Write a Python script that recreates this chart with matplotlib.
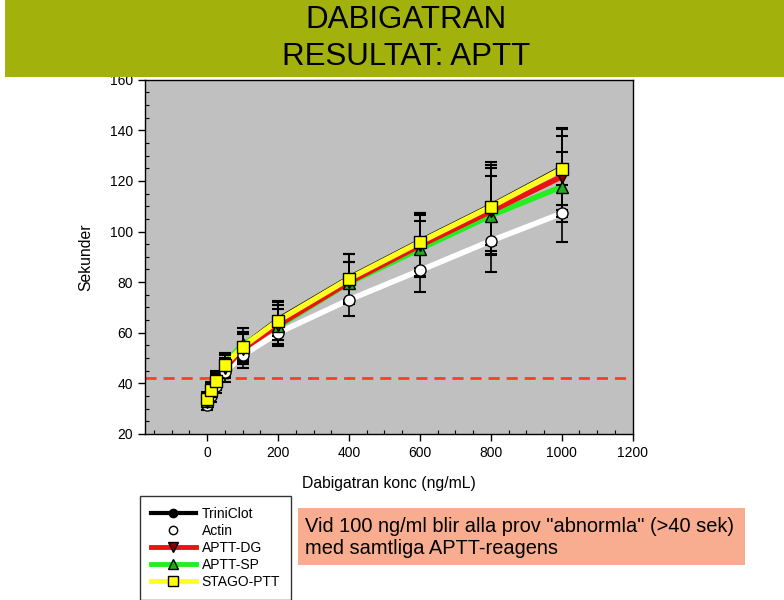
import matplotlib
matplotlib.use("Agg")
import matplotlib.pyplot as plt
from matplotlib.patches import Rectangle
from matplotlib.lines import Line2D
from matplotlib.ticker import MultipleLocator

plt.rcParams['font.family'] = ['Liberation Sans', 'DejaVu Sans']

conc = [0, 10, 25, 50, 100, 200, 400, 600, 800, 1000]
triniclot = [34.5, 38.0, 42.0, 48.0, 55.0, 65.5, 82.0, 96.5, 110.5, 125.5]
actin = [31.5, 35.0, 39.0, 44.5, 51.0, 59.9, 73.0, 84.6, 96.3, 107.2]
aptt_dg = [32.5, 36.5, 40.5, 46.0, 53.5, 63.0, 80.0, 94.5, 108.0, 121.7]
aptt_sp = [33.0, 37.0, 41.5, 47.5, 55.5, 62.5, 79.7, 93.1, 106.3, 117.7]
stago = [33.8, 37.4, 41.0, 47.3, 54.4, 64.7, 81.3, 95.8, 109.8, 124.7]

sd_triniclot = [2.0, 2.5, 3.0, 4.0, 5.0, 7.0, 9.0, 11.0, 16.0, 15.0]
sd_actin = [2.0, 2.5, 3.0, 4.0, 5.0, 5.0, 6.4, 8.7, 12.5, 11.3]
sd_dg = [2.0, 2.5, 3.0, 4.0, 6.0, 8.0, 8.0, 12.0, 17.0, 16.0]
sd_sp = [2.0, 2.5, 3.0, 4.5, 6.5, 7.0, 8.3, 11.0, 15.7, 13.8]
sd_stago = [2.0, 2.5, 3.0, 4.0, 6.0, 7.6, 9.7, 11.4, 17.6, 16.3]

threshold = 42

series = [
    ("TriniClot", triniclot, sd_triniclot, "black", "o", "black", "black", 2.5, 5),
    ("Actin", actin, sd_actin, "white", "o", "white", "black", 4, 8),
    ("APTT-SP", aptt_sp, sd_sp, "#22ee22", "^", "#22aa22", "black", 4, 8),
    ("APTT-DG", aptt_dg, sd_dg, "#ee1111", "v", "#880000", "black", 4, 8),
    ("STAGO-PTT", stago, sd_stago, "#ffff22", "s", "#ffff00", "black", 4, 8),
]

fig = plt.figure(figsize=(7.84, 6.0), dpi=100)
ax = fig.add_axes([0.185, 0.277, 0.622, 0.59])
ax.set_facecolor("#c0c0c0")
ax.set_xlim(-175, 1200)
ax.set_ylim(20, 160)

for i, (name, vals, sd, lc, mk, mfc, mec, lw, ms) in enumerate(series):
    ax.plot(conc, vals, color=lc, lw=lw, zorder=2 + i * 0.1, solid_capstyle='round')
for i, (name, vals, sd, lc, mk, mfc, mec, lw, ms) in enumerate(series):
    ax.errorbar(conc, vals, yerr=sd, fmt='none', ecolor='black', elinewidth=1.2,
                capsize=4.5, capthick=1.5, zorder=3)
for i, (name, vals, sd, lc, mk, mfc, mec, lw, ms) in enumerate(series):
    ax.plot(conc, vals, ls='none', marker=mk, ms=ms, mfc=mfc, mec=mec, mew=1.0,
            zorder=4 + i * 0.1)

ax.axhline(threshold, color="#ff3c28", lw=2, dashes=(4, 2.5), zorder=1.5)

ax.xaxis.set_major_locator(MultipleLocator(200))
ax.xaxis.set_minor_locator(MultipleLocator(50))
ax.yaxis.set_major_locator(MultipleLocator(20))
ax.yaxis.set_minor_locator(MultipleLocator(5))
ax.tick_params(which='major', direction='out', length=5, width=1, labelsize=10)
ax.tick_params(which='minor', direction='in', length=3, width=0.8)
ax.set_xticks(range(0, 1201, 200))
for s in ax.spines.values():
    s.set_linewidth(1.0)

ax.set_xlabel("Dabigatran konc (ng/mL)", fontsize=11.3, labelpad=12)
ax.set_ylabel("Sekunder", fontsize=11.3, labelpad=12)

# title bar
fig.patches.append(Rectangle((5 / 784, 1 - 77 / 600), 779 / 784, 77 / 600,
                             transform=fig.transFigure, facecolor="#a3b10c",
                             edgecolor='none', zorder=10))
fig.text(406 / 784, 1 - 20 / 600, "DABIGATRAN", ha='center', va='center',
         fontsize=22.5, zorder=11)
fig.text(406 / 784, 1 - 57 / 600, "RESULTAT: APTT", ha='center', va='center',
         fontsize=22.5, zorder=11)

# legend
handles = [
    Line2D([], [], color='black', lw=3, marker='o', ms=6, mfc='black', mec='black'),
    Line2D([], [], color='white', lw=3, marker='o', ms=6, mfc='white', mec='black'),
    Line2D([], [], color='#ee1111', lw=3.5, marker='v', ms=7, mfc='#880000', mec='black'),
    Line2D([], [], color='#22ee22', lw=3.5, marker='^', ms=7, mfc='#22aa22', mec='black'),
    Line2D([], [], color='#ffff22', lw=3.5, marker='s', ms=7, mfc='#ffff00', mec='black'),
]
labels = ["TriniClot", "Actin", "APTT-DG", "APTT-SP", "STAGO-PTT"]
leg = fig.legend(handles, labels, loc='upper left', bbox_to_anchor=(140 / 784, 1 - 496 / 600),
                 fontsize=10, frameon=True, fancybox=False, edgecolor='black',
                 handlelength=3.2, labelspacing=0.22, borderpad=0.8, handletextpad=0.45,
                 borderaxespad=0)
leg.get_frame().set_linewidth(1.0)

# annotation box
fig.patches.append(Rectangle((298 / 784, 1 - 565 / 600), 447 / 784, 57 / 600,
                             transform=fig.transFigure, facecolor="#f9ad90",
                             edgecolor='none', zorder=5))
fig.text(305 / 784, 1 - 537 / 600,
         'Vid 100 ng/ml blir alla prov "abnormla" (>40 sek)\nmed samtliga APTT-reagens',
         ha='left', va='center', fontsize=14.4, zorder=6, linespacing=1.2)

fig.savefig("out.png", dpi=100)
